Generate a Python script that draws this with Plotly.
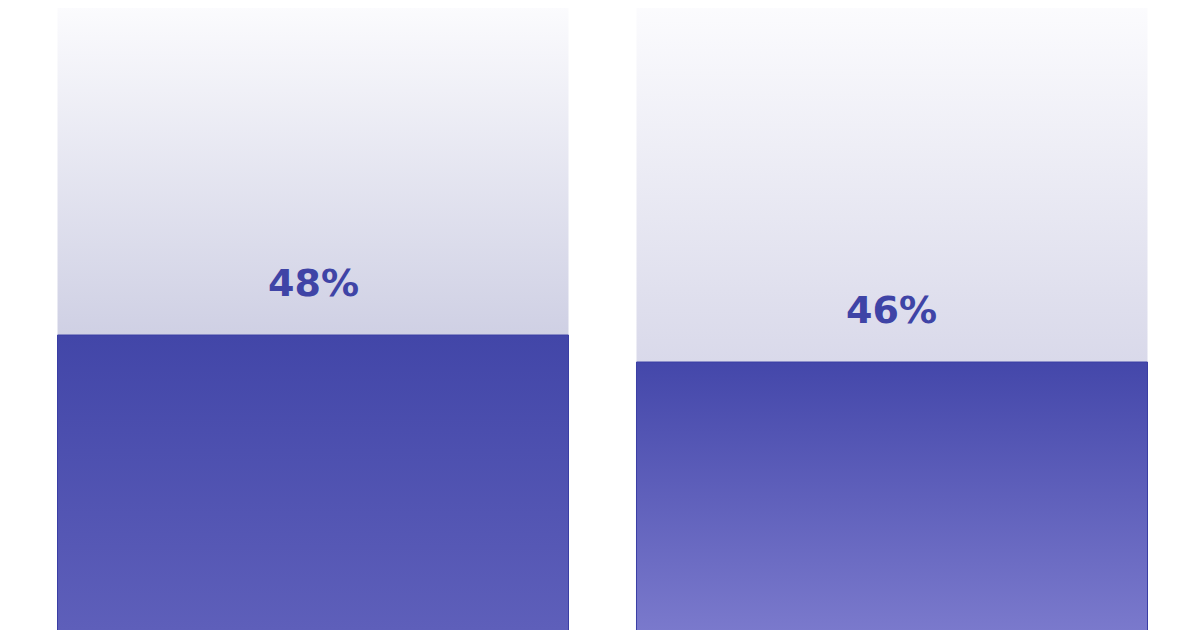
import plotly.graph_objects as go

# dados
categorias = ["Grupo A", "Grupo B"]
valores = [48, 46]
rotulos = ["48%", "46%"]
total = 100

# estilos
COR_TEXTO = "#3f44a6"
FUNDO_TOPO = "#fcfcfe"
FUNDO_BASE = ["#cfd0e4", "#d9d9ea"]
BARRA_TOPO = ["#4246a8", "#4447aa"]
BARRA_BASE = ["#5e5fba", "#7a79cc"]
MEIA_LARGURA = 0.4413
# a pagina desloca o grafico 8px (margem do body), o intervalo compensa
X_MIN, X_MAX = -0.5268, 1.5458
Y_MIN, Y_MAX = 25.56, 72.22


def _retangulo(centro, topo, base=0):
    x0, x1 = centro - MEIA_LARGURA, centro + MEIA_LARGURA
    return [x0, x1, x1, x0, x0], [base, base, topo, topo, base]


fig = go.Figure()

for i, (nome, valor) in enumerate(zip(categorias, valores)):
    # trilho de 100% com degrade claro
    xs, ys = _retangulo(i, total)
    fig.add_trace(go.Scatter(
        x=xs, y=ys, mode="lines", fill="toself", name=nome,
        line=dict(width=0),
        fillgradient=dict(
            type="vertical",
            colorscale=[[0, FUNDO_BASE[i]], [1, FUNDO_TOPO]],
            start=valor, stop=Y_MAX + 0.6,
        ),
        hoverinfo="skip", showlegend=False,
    ))
    # barra do valor
    xs, ys = _retangulo(i, valor)
    fig.add_trace(go.Scatter(
        x=xs, y=ys, mode="lines", fill="toself", name=nome,
        line=dict(width=1, color="#3a3ea4"),
        fillgradient=dict(
            type="vertical",
            colorscale=[[0, BARRA_BASE[i]], [1, BARRA_TOPO[i]]],
            start=Y_MIN + 0.6, stop=valor,
        ),
        hoverinfo="skip", showlegend=False,
    ))
    fig.add_annotation(
        x=i, y=valor, text=f"<b>{rotulos[i]}</b>",
        showarrow=False, yanchor="bottom", yshift=28,
        font=dict(family="DejaVu Sans", size=38, color=COR_TEXTO),
    )

fig.update_layout(
    width=1200, height=630,
    margin=dict(l=0, r=0, t=0, b=0),
    paper_bgcolor="white", plot_bgcolor="white",
    showlegend=False,
)
fig.update_xaxes(range=[X_MIN, X_MAX], visible=False, fixedrange=True)
fig.update_yaxes(range=[Y_MIN, Y_MAX], visible=False, fixedrange=True)

fig.write_html("out.html")
